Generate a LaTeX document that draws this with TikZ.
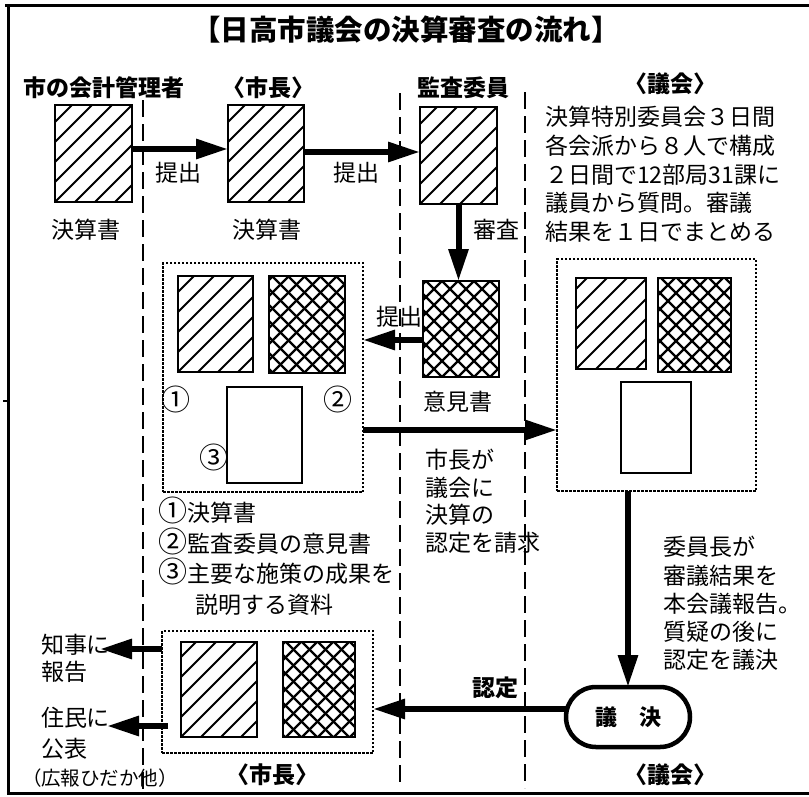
\documentclass[tikz,border=0pt]{standalone}
\usepackage{fontspec}
\setmainfont{Noto Sans CJK JP}
\usetikzlibrary{arrows.meta,shapes.misc,calc}
\newcommand{\cnum}[1]{{\fontsize{29}{29}\selectfont #1}}
\begin{document}
\begin{tikzpicture}[x=1pt,y=-1pt,
  every node/.style={inner sep=0pt,outer sep=0pt},
  ln/.style={font=\fontsize{#1}{#1}\selectfont, text height=0.88*#1pt, text depth=0.12*#1pt},
  ln/.default=23,
  bln/.style={ln=#1, font=\fontsize{#1}{#1}\selectfont\bfseries},
  bln/.default=23,
  doc/.style={draw, line width=2.5pt},
  hatch/.style={path picture={\foreach \d in {-6,...,5}
      \draw[line width=1.8pt] ([xshift=\d*20pt]path picture bounding box.south west) -- ++(170pt,170pt);}},
  xhatch/.style={path picture={\foreach \d in {-8,...,7} {
      \draw[line width=2.3pt] ([xshift=\d*16pt+3pt]path picture bounding box.south west) -- ++(170pt,170pt);
      \draw[line width=2.3pt] ([xshift=\d*16pt+3pt]path picture bounding box.north west) -- ++(170pt,-170pt);}}},
  grp/.style={draw, line width=2.5pt, dash pattern=on 2.5pt off 1.5pt},
  dl/.style={line width=2pt, dash pattern=on 17pt off 7pt},
  arr/.style={line width=6pt, -{Triangle[length=32pt,width=19pt]}}
]
\useasboundingbox (0,0) rectangle (809,796);
% frame
\draw[line width=3pt] (5,5) -- (809,5);
\draw[line width=3pt] (8,5) -- (8,793) -- (809,793);
\draw[line width=2.5pt] (3,401) -- (8,401);
% lane separators
\draw[dl] (143,100) -- (143,790);
\draw[dl] (400,93) -- (400,788);
\draw[dl] (525,92) -- (525,788);
% title and headers
\node[bln=28.5] (title) at (406,30) {【日高市議会の決算審査の流れ】};
\node[bln] (h1) at (104,88) {市の会計管理者};
\node[bln] (h2) at (268,88) {〈市長〉};
\node[bln] (h3) at (463,88) {監査委員};
\node[bln] (h4) at (670,84) {〈議会〉};
% top documents
\node[doc,hatch,minimum width=77pt,minimum height=97pt] (b1) at (93.5,153.5) {};
\node[doc,hatch,minimum width=76pt,minimum height=97pt] (b2) at (266,153.5) {};
\node[doc,hatch,minimum width=77pt,minimum height=97pt] (b3) at (458.5,155.5) {};
\node[doc,xhatch,minimum width=76pt,minimum height=96pt] (op) at (461,329) {};
\node[ln] (l1) at (86,230) {決算書};
\node[ln] (l2) at (267,230) {決算書};
\node[ln] (p1) at (178,173) {提出};
\node[ln] (p2) at (356,173) {提出};
\node[ln] (p3) at (399,317) {提出};
\node[ln] (sa) at (496,230) {審査};
\node[ln] (ik) at (457.5,402) {意見書};
% council description
\foreach \t [count=\i] in {決算特別委員会３日間,各会派から８人で構成,２日間で12部局31課に,議員から質問。審議,結果を１日でまとめる}
  \node[ln,anchor=west] (cd\i) at (545,{117+(\i-1)*28.7}) {\t};
% mayor group
\node[grp,minimum width=200pt,minimum height=229pt] (g1) at (263,377.5) {};
\node[doc,hatch,minimum width=75pt,minimum height=96pt] (m1) at (215.5,324) {};
\node[doc,xhatch,minimum width=76pt,minimum height=97pt] (m2) at (307,324.5) {};
\node[doc,minimum width=75pt,minimum height=96pt] (m3) at (264.5,435) {};
\node[ln] (n1) at (176,402) {\cnum{①}};
\node[ln] (n2) at (338,402) {\cnum{②}};
\node[ln] (n3) at (214,460) {\cnum{③}};
% council group
\node[grp,minimum width=199pt,minimum height=232pt] (g2) at (656.5,375) {};
\node[doc,hatch,minimum width=70pt,minimum height=91pt] (c1) at (611,323.5) {};
\node[doc,xhatch,minimum width=73pt,minimum height=94pt] (c2) at (694.5,325) {};
\node[doc,minimum width=70pt,minimum height=91pt] (c3) at (656,427.5) {};
% middle text
\foreach \t [count=\i] in {市長が,議会に,決算の,認定を請求}
  \node[ln,anchor=west] (mt\i) at (425,{460+(\i-1)*27.5}) {\t};
% list
\node[ln,anchor=west] (li1) at (158,513) {\cnum{①}決算書};
\node[ln,anchor=west] (li2) at (158,543.5) {\cnum{②}監査委員の意見書};
\node[ln,anchor=west] (li3) at (158,574) {\cnum{③}主要な施策の成果を};
\node[ln,anchor=west] (li4) at (195,604.5) {説明する資料};
% right text
\foreach \t [count=\i] in {委員長が,審議結果を,本会議報告。,質疑の後に,認定を議決}
  \node[ln,anchor=west] (rt\i) at (663,{547+(\i-1)*28.25}) {\t};
% bottom mayor group
\node[grp,minimum width=211pt,minimum height=122pt] (g3) at (267.5,692) {};
\node[doc,hatch,minimum width=76pt,minimum height=95pt] (k1) at (219,689.5) {};
\node[doc,xhatch,minimum width=72pt,minimum height=95pt] (k2) at (319,689.5) {};
% decision
\node[draw,line width=4.5pt,rounded rectangle,minimum width=124pt,minimum height=60pt,bln=22] (gi) at (628,717) {議　決};
\node[bln] (nt) at (495,688) {認定};
% left labels
\node[ln,anchor=west] (lg1) at (41,645) {知事に};
\node[ln,anchor=west] (lg2) at (41,672) {報告};
\node[ln,anchor=west] (lp1) at (41,718) {住民に};
\node[ln,anchor=west] (lp2) at (41,749) {公表};
\node[ln=19.5] (lp3) at (100,778) {（広報ひだか他）};
\node[bln] (f1) at (272,775) {〈市長〉};
\node[bln] (f2) at (670,775) {〈議会〉};
% arrows
\coordinate (gov) at (100,649);
\coordinate (pub) at (107,726);
\draw[arr] (b1.east |- 0,149) -- (b2.west |- 0,149);
\draw[arr] (b2.east |- 0,152) -- (b3.west |- 0,152);
\draw[arr] (b3.south) -- (b3.south |- op.north);
\draw[arr] (op.west |- 0,340) -- (g1.east |- 0,340);
\draw[arr] (g1.east |- 0,430) -- (g2.west |- 0,430);
\draw[arr] (gi.north |- g2.south) -- (gi.north);
\draw[arr] (gi.west |- 0,709) -- (g3.east |- 0,709);
\draw[arr] (g3.west |- gov) -- (gov);
\draw[arr] ($(g3.west |- pub)+(6,0)$) -- (pub);
\end{tikzpicture}
\end{document}
